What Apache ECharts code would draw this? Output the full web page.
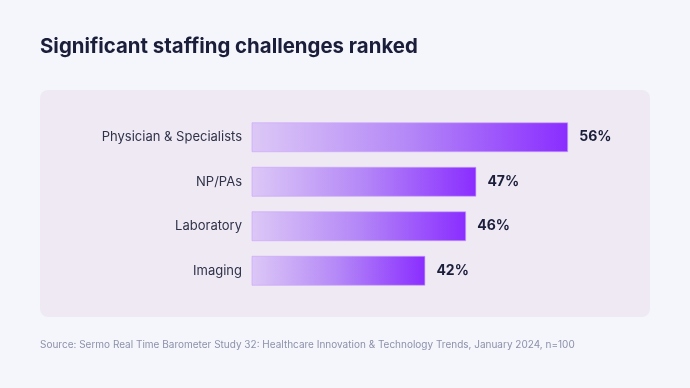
<!DOCTYPE html>
<html>
<head>
<meta charset="utf-8">
<style>html,body{margin:0;padding:0;background:#f5f6fb;}#c{width:690px;height:388px;}</style>
<script src="https://cdn.jsdelivr.net/npm/echarts@6/dist/echarts.min.js"></script>
</head>
<body>
<div id="c"></div>
<script>
const categories = ["Physician & Specialists", "NP/PAs", "Laboratory", "Imaging"];
const values = [56, 47, 46, 42];
const titleText = "Significant staffing challenges ranked";
const sourceText = "Source: Sermo Real Time Barometer Study 32: Healthcare Innovation & Technology Trends, January 2024, n=100";

const chart = echarts.init(document.getElementById('c'), null, {renderer: 'canvas'});
chart.setOption({
  backgroundColor: '#f5f6fb',
  animation: false,
  graphic: [
    {type: 'rect', left: 40, top: 90, z: -10, shape: {width: 610, height: 227, r: 8}, style: {fill: '#efe9f4'}},
    {type: 'text', left: 40, top: 37, style: {text: titleText, font: 'bold 20.4px Inter, "Noto Sans", sans-serif', fill: '#1b1e3a'}},
    {type: 'text', left: 40, top: 340, style: {text: sourceText, font: '10px Inter, "Noto Sans", sans-serif', fill: '#8d91aa'}}
  ],
  grid: {left: 252, right: 81, top: 115, bottom: 95, containLabel: false},
  xAxis: {type: 'value', min: 25, max: 60, show: false},
  yAxis: {
    type: 'category', data: categories, inverse: true,
    axisLine: {show: false}, axisTick: {show: false},
    axisLabel: {margin: 10, fontSize: 13, color: '#2f3248', fontFamily: 'Inter, "Noto Sans", sans-serif'}
  },
  series: [{
    type: 'bar', data: values, barWidth: 30,
    itemStyle: {
      color: new echarts.graphic.LinearGradient(0, 0, 1, 0, [
        {offset: 0, color: '#dcc8f6'},
        {offset: 0.5, color: '#b487f7'},
        {offset: 1, color: '#8a2dff'}
      ]),
      borderColor: 'rgba(200,160,250,0.6)', borderWidth: 1
    },
    label: {
      show: true, position: 'right', distance: 11,
      formatter: p => p.value + '%',
      fontSize: 14, fontWeight: 'bold', color: '#1b1e3a',
      fontFamily: 'Inter, "Noto Sans", sans-serif'
    }
  }]
});
</script>
</body>
</html>
